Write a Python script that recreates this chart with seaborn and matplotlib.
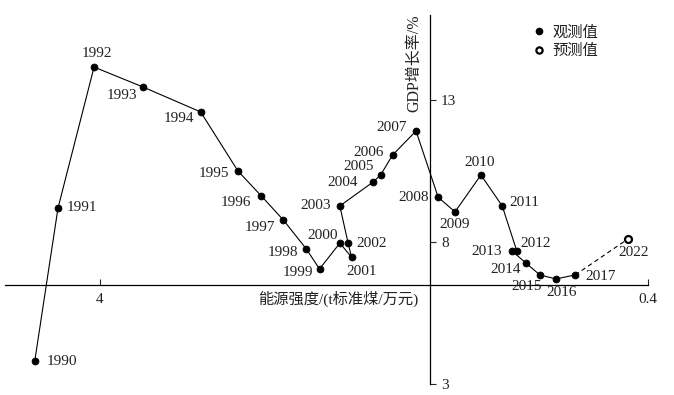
import numpy as np
import pandas as pd
import matplotlib
matplotlib.use('Agg')
import matplotlib.pyplot as plt
from matplotlib.lines import Line2D
from matplotlib.ticker import FixedLocator, FixedFormatter, NullLocator
import seaborn as sns

# 观测值 1990-2017
years = [1990, 1991, 1992, 1993, 1994, 1995, 1996, 1997, 1998, 1999,
         2000, 2001, 2002, 2003, 2004, 2005, 2006, 2007, 2008, 2009,
         2010, 2011, 2012, 2013, 2014, 2015, 2016, 2017]
energy_intensity = [5.26, 4.77, 4.10, 3.34, 2.62, 2.24, 2.03, 1.85, 1.68, 1.59,
                    1.46, 1.39, 1.41, 1.46, 1.27, 1.23, 1.17, 1.06, 0.966, 0.90,
                    0.807, 0.738, 0.694, 0.708, 0.668, 0.63, 0.589, 0.543]
gdp_growth = [3.81, 9.20, 14.16, 13.46, 12.58, 10.50, 9.62, 8.77, 7.75, 7.05,
              7.96, 7.47, 7.96, 9.27, 10.11, 10.36, 11.06, 11.91, 9.58, 9.06,
              10.36, 9.27, 7.68, 7.68, 7.26, 6.84, 6.70, 6.84]

# 预测值
pred_years = [2022]
pred_energy = [0.435]
pred_gdp = [8.11]

x_ticks = [4, 0.4]
x_tick_labels = ['4', '0.4']
y_ticks = [13, 8, 3]
y_tick_labels = ['13', '8', '3']

# 年份标签偏移 (像素, 右为正, 下为正)
label_offsets = {
    1990: (27, 0), 1991: (24, 0), 1992: (3, -14), 1993: (-21, 9), 1994: (-22, 7),
    1995: (-24, 2), 1996: (-25, 7), 1997: (-24, 7), 1998: (-23, 3), 1999: (-22, 4),
    2000: (-17, -8), 2001: (10, 14), 2002: (24, 0), 2003: (-24, 0), 2004: (-30, 0),
    2005: (-22, -8), 2006: (-24, -3), 2007: (-24, -3), 2008: (-25, 0), 2009: (0, 13),
    2010: (-1, -12), 2011: (22, -3), 2012: (19, -8), 2013: (-25, 0), 2014: (-20, 6),
    2015: (-13, 12), 2016: (6, 14), 2017: (25, 2), 2022: (6, 14),
}

W, H = 674, 395
DPI = 100
FS = 11

sns.set_style('white')
plt.rcParams['font.family'] = ['Liberation Serif', 'Noto Sans CJK SC']
plt.rcParams['axes.unicode_minus'] = False

fig = plt.figure(figsize=(W / DPI, H / DPI), dpi=DPI)
ax = fig.add_axes([0, 0, 1, 1])
ax.patch.set_alpha(0)

df = pd.DataFrame({'year': years, 'ei': energy_intensity, 'gdp': gdp_growth})
sns.lineplot(data=df, x='ei', y='gdp', sort=False, estimator=None, ax=ax,
             color='black', lw=0.8, marker='o', markersize=4.8,
             markeredgecolor='black', markerfacecolor='black')

# 预测段 (虚线)
df_pred = pd.DataFrame({'ei': [energy_intensity[-1]] + pred_energy,
                        'gdp': [gdp_growth[-1]] + pred_gdp})
sns.lineplot(data=df_pred, x='ei', y='gdp', sort=False, estimator=None, ax=ax,
             color='black', lw=0.8, linestyle=(0, (4, 3)))
ax.plot(pred_energy, pred_gdp, 'o', ms=5, mfc='white', mec='black', mew=1.6,
        zorder=5)

ax.set_xscale('log')
ax.set_xlim(6.087, 0.3586)
ax.set_ylim(2.613, 16.521)

# 年份标注
px2pt = 72 / DPI
for yr, xv, yv in zip(years + pred_years, energy_intensity + pred_energy,
                      gdp_growth + pred_gdp):
    dx, dy = label_offsets[yr]
    ax.annotate(str(yr), (xv, yv), xytext=(dx * px2pt, -dy * px2pt),
                textcoords='offset points', ha='center', va='center',
                fontsize=FS, color='#222222')

# 坐标轴
for s in ['top', 'left']:
    ax.spines[s].set_visible(False)
ax.spines['right'].set_position(('data', 1))
ax.spines['right'].set_bounds(3, 15.99)
ax.spines['bottom'].set_position(('data', 6.49))
ax.spines['bottom'].set_bounds(5.96, 0.4)
for s in ['right', 'bottom']:
    ax.spines[s].set_linewidth(0.9)
    ax.spines[s].set_color('black')

ax.yaxis.tick_right()
ax.yaxis.set_major_locator(FixedLocator(y_ticks))
ax.yaxis.set_major_formatter(FixedFormatter(y_tick_labels))
ax.yaxis.set_minor_locator(NullLocator())
ax.xaxis.set_major_locator(FixedLocator(x_ticks))
ax.xaxis.set_major_formatter(FixedFormatter(x_tick_labels))
ax.xaxis.set_minor_locator(NullLocator())
ax.tick_params(axis='y', direction='out', length=4, width=0.8, pad=4,
               labelsize=FS, right=True, left=False, labelcolor='#222222')
ax.tick_params(axis='x', direction='in', length=4, width=0.8, pad=6,
               labelsize=FS, bottom=True, labelcolor='#222222')
ax.set_xlabel('')
ax.set_ylabel('')

def fx(px):
    return px / W

def fy(py):
    return 1 - py / H

fig.text(fx(338), fy(299), '能源强度/(t标准煤/万元)', ha='center', va='center',
         fontsize=FS, color='#222222')
fig.text(fx(414), fy(63), 'GDP增长率/%', ha='center', va='center',
         rotation=90, fontsize=FS + 0.5, color='#222222')

handles = [
    Line2D([], [], ls='none', marker='o', ms=4.5, mfc='black', mec='black'),
    Line2D([], [], ls='none', marker='o', ms=4.5, mfc='white', mec='black', mew=1.6),
]
ax.legend(handles, ['观测值', '预测值'], loc='upper left',
          bbox_to_anchor=(fx(533), fy(25)), bbox_transform=fig.transFigure,
          frameon=False, handlelength=0.8, handletextpad=0.5, labelspacing=0.3,
          borderaxespad=0, borderpad=0, fontsize=FS, labelcolor='#222222')

fig.savefig('out.png', dpi=DPI)
